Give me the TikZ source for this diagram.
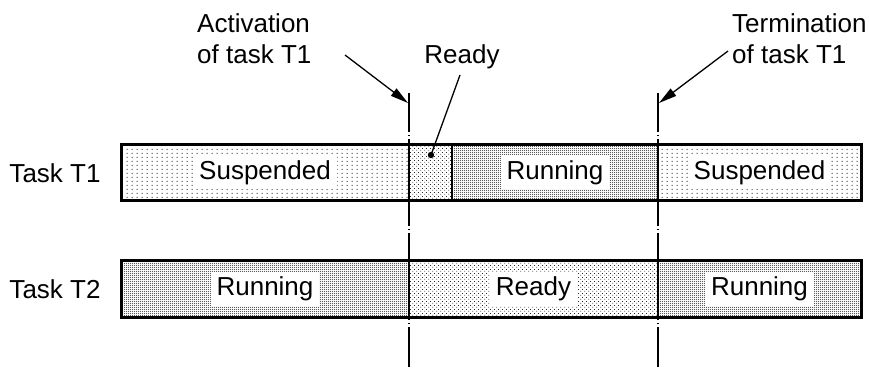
\documentclass[tikz,border=0pt]{standalone}
\usepackage{fontspec}
\setmainfont{Liberation Sans}
\usetikzlibrary{patterns.meta,arrows.meta}

\pgfdeclarepattern{name=suspdots, type=uncolored,
  bottom left={\pgfpoint{0pt}{0pt}}, top right={\pgfpoint{5pt}{4pt}},
  tile size={\pgfpoint{5pt}{4pt}},
  code={\pgfpathrectangle{\pgfpoint{2pt}{1.5pt}}{\pgfpoint{1pt}{1pt}}\pgfusepath{fill}}}
\pgfdeclarepattern{name=readydots, type=uncolored,
  bottom left={\pgfpoint{0pt}{0pt}}, top right={\pgfpoint{4pt}{4pt}},
  tile size={\pgfpoint{4pt}{4pt}},
  code={\pgfpathrectangle{\pgfpoint{0.5pt}{0.5pt}}{\pgfpoint{1pt}{1pt}}
        \pgfpathrectangle{\pgfpoint{2.5pt}{2.5pt}}{\pgfpoint{1pt}{1pt}}\pgfusepath{fill}}}
\pgfdeclarepattern{name=rundots, type=uncolored,
  bottom left={\pgfpoint{0pt}{0pt}}, top right={\pgfpoint{2pt}{2pt}},
  tile size={\pgfpoint{2pt}{2pt}},
  code={\pgfpathrectangle{\pgfpoint{0pt}{0pt}}{\pgfpoint{1pt}{1pt}}
        \pgfpathrectangle{\pgfpoint{1pt}{1pt}}{\pgfpoint{0.8pt}{0.8pt}}\pgfusepath{fill}}}

\begin{document}
\begin{tikzpicture}[x=1pt,y=-1pt,
  font=\fontsize{26}{31}\selectfont,
  seg/.style={draw=black, line width=2.2pt},
  susp/.style={seg, pattern={suspdots}, pattern color=black!75},
  rdy/.style={seg, pattern={readydots}, pattern color=black!85},
  run/.style={seg, pattern={rundots}, pattern color=black},
  outer/.style={draw=black, line width=3pt},
  lbl/.style={fill=white, inner xsep=6pt, inner ysep=5pt, text height=19pt, text depth=5pt},
  vline/.style={draw=black, line width=1.4pt, dash pattern=on 40pt off 3pt on 1pt off 3pt},
  arr/.style={draw=black, line width=1.3pt, -{Triangle[length=18pt,width=9pt]}},
  plain/.style={draw=black, line width=1.3pt}
]
\useasboundingbox (0,0) rectangle (870,367);

% time marker lines
\coordinate (m1top) at (409,93);
\coordinate (m1bot) at (409,367);
\coordinate (m2top) at (658,93);
\coordinate (m2bot) at (658,367);
\draw[vline] (m1bot) -- (m1top);
\draw[vline] (m2bot) -- (m2top);

% Task T1 row
\draw[susp] (121,144) rectangle (409,200);
\draw[rdy]  (409,144) rectangle (452,200);
\draw[run]  (452,144) rectangle (658,200);
\draw[susp] (658,144) rectangle (861,200);
\draw[outer] (121,144) rectangle (861,200);

% Task T2 row
\draw[run]  (121,260) rectangle (409,317);
\draw[rdy]  (409,260) rectangle (658,317);
\draw[run]  (658,260) rectangle (861,317);
\draw[outer] (121,260) rectangle (861,317);

% row labels
\node[anchor=base] (t1) at (55,182) {Task T1};
\node[anchor=base] (t2) at (55,298) {Task T2};

% state labels
\node[lbl] (s11) at (265,172) {Suspended};
\node[lbl] (s13) at (555,172) {Running};
\node[lbl] (s14) at (759.5,172) {Suspended};
\node[lbl] (s21) at (265,288.5) {Running};
\node[lbl] (s22) at (533.5,288.5) {Ready};
\node[lbl] (s23) at (759.5,288.5) {Running};

% top annotations
\node[anchor=base west, align=left, inner sep=0] (act) at (197,63) {Activation\\of task T1};
\node[anchor=base west, align=left, inner sep=0] (term) at (732,63) {Termination\\of task T1};
\node[anchor=base] (ready) at (462,63) {Ready};

\coordinate (actstart) at (345,55);
\coordinate (acttip) at (408,103);
\coordinate (termstart) at (728,51);
\coordinate (termtip) at (659,103);
\coordinate (rstart) at (460,75);
\coordinate (rdot) at (431,155);

\draw[arr] (actstart) -- (acttip);
\draw[arr] (termstart) -- (termtip);
\draw[plain] (rstart) -- (rdot);
\fill (rdot) circle (3.2pt);
\end{tikzpicture}
\end{document}
